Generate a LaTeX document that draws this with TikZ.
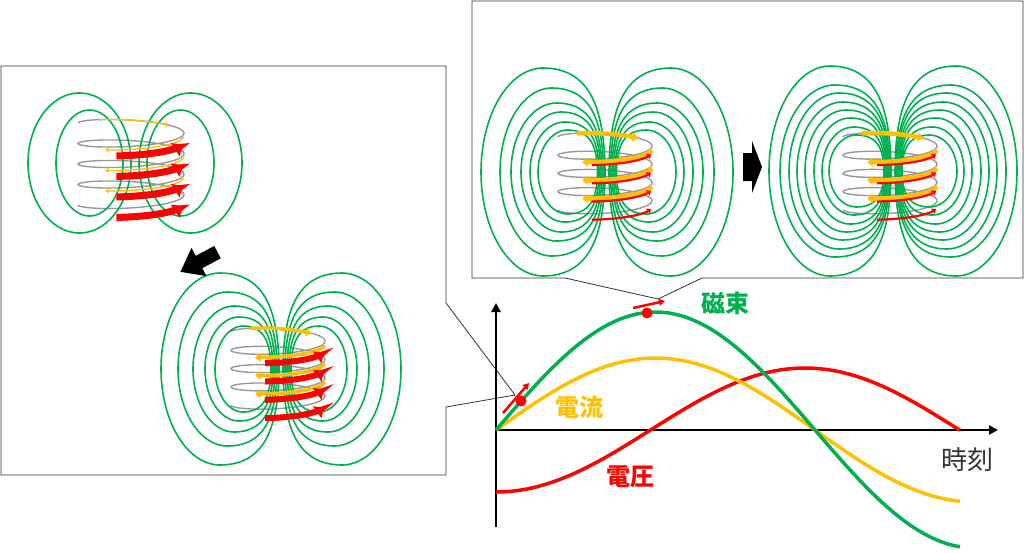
\documentclass[tikz,border=0pt]{standalone}
\usepackage{fontspec}
\usepackage{tikz}
\usetikzlibrary{arrows.meta}
\newfontfamily\jp{Noto Sans CJK JP}
\definecolor{fluxgreen}{HTML}{00B050}
\definecolor{curryellow}{HTML}{FFC000}
\definecolor{voltred}{HTML}{FF0000}
\definecolor{wiregray}{HTML}{999999}
% x/y of coil, top of wire, radius, pitch, current width/tip, voltage width/tip/offset
\newcommand{\coillist}{131/123/53/20.5/1.3/4/7/12/9,
  278/332/47/18.3/3.5/7/6/11/9,
  605/137/47/18.2/4.5/7/2.2/5/6,
  890/137/47/18.2/4.5/7/2.2/5/6}

\begin{document}
\begin{tikzpicture}[x=1pt, y=-1pt,
  fieldline/.style={fluxgreen, line width=1.6pt},
  coilwire/.style={wiregray, line width=1.4pt},
  callout/.style={black!80, line width=0.8pt, fill=white},
  graphline/.style={line width=3.5pt},
  axisline/.style={line width=2.5pt, -{Triangle[length=9pt,width=9pt]}},
  lbl/.style={font=\jp\bfseries\fontsize{24}{24}\selectfont},
  reddot/.style={circle, fill=voltred, inner sep=0pt, minimum size=11pt},
  dirarrow/.style={voltred, line width=2.5pt, -{Triangle[length=6pt,width=7pt]}}]
\useasboundingbox (0,0) rectangle (1024,552);
% callout boxes
\draw[callout] (1,66) -- (446,66) -- (446,303) -- (515,395) -- (446,407) -- (446,475) -- (1,475) -- cycle;
\draw[callout] (472,1) -- (1023,1) -- (1023,278) -- (702,278) -- (658,299) -- (565,278) -- (472,278) -- cycle;
% coil wires
\foreach \cx/\yt/\R/\p/\yw/\ys/\rw/\rs/\ro in \coillist {
  \draw[coilwire] plot[smooth, variable=\t, domain=0:1440, samples=241] ({\cx-\R*cos(\t)}, {\yt+\t/360*\p-8*sin(\t)});
}
% field lines: centre, flatness, inner gap, outer reach, half height
\foreach \fx/\fy/\ex/\din/\dout/\bh in {135/163/0/4/107/70, 135/163/0/12/79/53,
  281/369/0.45/2/120/96, 281/369/0.45/4/103/77, 281/369/0.45/6/88/63, 281/369/0.45/8/76/52, 281/369/0.45/10/66/43,
  607/172/0.45/2/126/104, 607/172/0.45/3.5/107/84, 607/172/0.45/5/96/69, 607/172/0.45/6.5/86/60, 607/172/0.45/8/77/50, 607/172/0.45/9.5/69/42,
  893/171/0.45/2/124/105, 893/171/0.45/3/113/86, 893/171/0.45/4/104/78, 893/171/0.45/5/96/69, 893/171/0.45/6/88/61, 893/171/0.45/7/79/53, 893/171/0.45/8/71/44, 893/171/0.45/9/64/36} {
  \draw[fieldline] plot[smooth, variable=\t, domain=0:360, samples=73] ({\fx-(\dout+\din)/2+(\dout-\din)/2*(cos(\t)+\ex*max(cos(\t),0)*(1-cos(\t)))}, {\fy+\bh*sin(\t)});
  \draw[fieldline] plot[smooth, variable=\t, domain=0:360, samples=73] ({\fx+(\dout+\din)/2-(\dout-\din)/2*(cos(\t)+\ex*max(cos(\t),0)*(1-cos(\t)))}, {\fy+\bh*sin(\t)});
}
% current and voltage on the coils
\foreach \cx/\yt/\R/\p/\yw/\ys/\rw/\rs/\ro in \coillist {
  \draw[curryellow, line width=\yw pt, -{Triangle[angle=80:\ys pt]}] plot[smooth, variable=\t, domain=53:135, samples=5] ({\cx-\R*cos(\t)}, {\yt+\t/360*\p-8*sin(\t)});
  \foreach \k in {0,1,2}
    \draw[curryellow, line width=\yw pt, -{Triangle[angle=80:\ys pt]}] plot[smooth, variable=\t, domain=360*\k+185:360*\k+299, samples=7] ({\cx-\R*cos(\t)}, {\yt+\t/360*\p-8*sin(\t)+3});
  \foreach \k in {0,...,3}
    \draw[voltred, line width=\rw pt, {Triangle[angle=80:\rs pt]}-] plot[smooth, variable=\t, domain=360*\k+192:360*\k+286, samples=6] ({\cx-\R*cos(\t)}, {\yt+\t/360*\p-8*sin(\t)+\ro});
}
% block arrows
\fill (743,153) -- (752,153) -- (752,141) -- (762,167) -- (752,193) -- (752,181) -- (743,181) -- cycle;
\begin{scope}[shift={(199,262)}, rotate=208]
\fill (-21,-7) -- (0,-7) -- (0,-16) -- (21,0) -- (0,16) -- (0,7) -- (-21,7) -- cycle;
\end{scope}
% graph
\coordinate (origin) at (496,430);
\coordinate (ybot) at (496,527);
\coordinate (ytip) at (496,303);
\coordinate (xtip) at (998,430);
\draw[axisline] (ybot) -- (ytip);
\draw[axisline] (origin) -- (xtip);
\draw[graphline, voltred] plot[smooth, domain=496:960, samples=80] (\x, {430+62*cos((\x-496)/309*180)});
\draw[graphline, curryellow] plot[smooth, domain=496:960, samples=80] (\x, {430-72*sin((\x-496)/319*180)});
\draw[graphline, fluxgreen] plot[smooth, domain=496:960, samples=80] (\x, {430-118*sin((\x-496)/319*180)});
\node[reddot] (p1) at (521,401) {};
\node[reddot] (p2) at (647,313) {};
\draw[dirarrow] ([shift={(-18,12)}]p1.center) -- ([shift={(8,-18)}]p1.center);
\draw[dirarrow] ([shift={(-14,-5)}]p2.center) -- ([shift={(18,-12)}]p2.center);
\node[lbl, text=fluxgreen] (flux) at (725,303) {磁束};
\node[lbl, text=curryellow] (current) at (579,407) {電流};
\node[lbl, text=voltred] (voltage) at (630,477) {電圧};
\node[font=\jp\fontsize{26}{26}\selectfont, text=black!80] (time) at (967,460) {時刻};
\end{tikzpicture}
\end{document}
